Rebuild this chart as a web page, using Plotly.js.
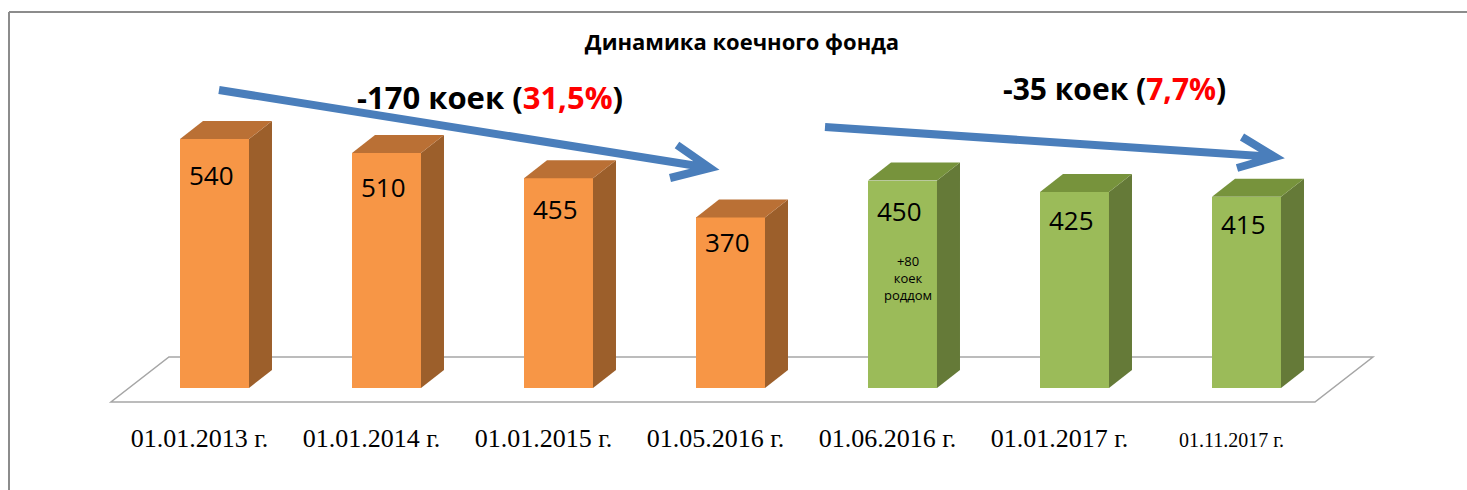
<!DOCTYPE html>
<html>
<head>
<meta charset="utf-8">
<script src="https://cdn.plot.ly/plotly-3.0.1.min.js"></script>
<style>html,body{margin:0;padding:0;background:#fff;}#chart{width:1467px;height:490px;}</style>
</head>
<body>
<div id="chart"></div>
<script>
// ---- data ----
const categories = ['01.01.2013 г.', '01.01.2014 г.', '01.01.2015 г.', '01.05.2016 г.', '01.06.2016 г.', '01.01.2017 г.', '01.11.2017 г.'];
const beds = [540, 510, 455, 370, 450, 425, 415];
const splitIndex = 4; // first four bars: before the maternity unit was added
const chartTitle = 'Динамика коечного фонда';
const change1 = ['-170 коек (', '31,5%', ')'];
const change2 = ['-35 коек (', '7,7%', ')'];
const note = ['+80', 'коек', 'роддом'];
const noteBar = 4;

// ---- geometry / style ----
const W = 1467, H = 490, MB = 70;
const PX_PER_CAT = 172, X0_PIX = 214.5, BASE_PIX = 388, PX_PER_UNIT = 0.461;
const plotH = H - MB;
const xRange = [-X0_PIX / PX_PER_CAT, (W - X0_PIX) / PX_PER_CAT];
const yRange = [(BASE_PIX - plotH) / PX_PER_UNIT, BASE_PIX / PX_PER_UNIT];
const dX = px => (px - X0_PIX) / PX_PER_CAT;
const dY = py => (BASE_PIX - py) / PX_PER_UNIT;
const pX = px => px / W;
const pY = py => (plotH - py) / plotH;

const BAR_W = 0.401;
const DEPTH_X = 23 / PX_PER_CAT, DEPTH_Y = 18 / PX_PER_UNIT;
const pal = {
  a: {front: '#F79646', top: '#BA7035', side: '#9C5F2B'},
  b: {front: '#9BBB59', top: '#77933C', side: '#657A38'}
};
const colOf = i => (i < splitIndex ? pal.a : pal.b);

const traces = [];
// 3D side and top faces, derived from the values
beds.forEach((v, i) => {
  const c = colOf(i);
  const xl = i - BAR_W / 2, xr = i + BAR_W / 2;
  traces.push({
    type: 'scatter', mode: 'lines', fill: 'toself', fillcolor: c.side,
    line: {width: 0, color: c.side}, hoverinfo: 'skip', showlegend: false,
    x: [xr, xr + DEPTH_X, xr + DEPTH_X, xr, xr],
    y: [0, DEPTH_Y, v + DEPTH_Y, v, 0]
  });
  traces.push({
    type: 'scatter', mode: 'lines', fill: 'toself', fillcolor: c.top,
    line: {width: 0, color: c.top}, hoverinfo: 'skip', showlegend: false,
    x: [xl, xl + DEPTH_X, xr + DEPTH_X, xr, xl],
    y: [v, v + DEPTH_Y, v + DEPTH_Y, v, v]
  });
});
// front faces
traces.push({
  type: 'bar', x: beds.map((_, i) => i), y: beds, width: BAR_W,
  marker: {color: beds.map((_, i) => colOf(i).front), line: {width: 0}},
  hoverinfo: 'x+y', showlegend: false
});

const annotations = [];
beds.forEach((v, i) => {
  annotations.push({
    x: i - 0.02, y: v * 0.855, xref: 'x', yref: 'y', text: String(v), showarrow: false,
    font: {family: 'Open Sans', size: 26, color: '#000'}
  });
});
annotations.push({
  x: noteBar + 0.03, y: dY(278), xref: 'x', yref: 'y', text: note.join('<br>'), showarrow: false,
  font: {family: 'Open Sans', size: 13, color: '#000'}
});
annotations.push({
  x: dX(489.5), y: dY(97), xref: 'x', yref: 'y', showarrow: false,
  text: '<b>' + change1[0] + '<span style="color:#FF0000">' + change1[1] + '</span>' + change1[2] + '</b>',
  font: {family: 'Open Sans', size: 31, color: '#000'}
});
annotations.push({
  x: dX(1114), y: dY(88), xref: 'x', yref: 'y', showarrow: false,
  text: '<b>' + change2[0] + '<span style="color:#FF0000">' + change2[1] + '</span>' + change2[2] + '</b>',
  font: {family: 'Open Sans', size: 30, color: '#000'}
});

function arrowPath(s, t, w1, w2) {
  const P = p => dX(p[0]) + ',' + dY(p[1]);
  return 'M' + P(s) + ' L' + P(t) + ' M' + P(w1) + ' L' + P(t) + ' L' + P(w2);
}
const n = categories.length;
const shapes = [
  // floor
  {type: 'path', xref: 'x', yref: 'y', layer: 'below',
   path: 'M' + (-0.602) + ',' + dY(402) + ' L' + (n - 1 + 0.398) + ',' + dY(402) +
         ' L' + (n - 1 + 0.735) + ',' + dY(357) + ' L' + (-0.265) + ',' + dY(357) + ' Z',
   line: {color: '#A6A6A6', width: 1.5}, fillcolor: 'rgba(255,255,255,0)'},
  // arrows
  {type: 'path', xref: 'x', yref: 'y', path: arrowPath([219, 90], [710, 168], [677, 145], [670, 178]),
   line: {color: '#4A7EBB', width: 8}},
  {type: 'path', xref: 'x', yref: 'y', path: arrowPath([825, 127], [1275, 157], [1242, 137], [1237, 168]),
   line: {color: '#4A7EBB', width: 8}},
  // frame
  {type: 'line', xref: 'paper', yref: 'paper', x0: pX(9), x1: pX(1467), y0: pY(12), y1: pY(12),
   line: {color: '#8C8C8C', width: 2}},
  {type: 'line', xref: 'paper', yref: 'paper', x0: pX(9), x1: pX(9), y0: pY(12), y1: pY(490),
   line: {color: '#8C8C8C', width: 2}}
];

const ticktext = categories.map((c, i) => i === n - 1 ? '<span style="font-size:20px">' + c + '</span>' : c);

const layout = {
  width: W, height: H,
  margin: {l: 0, r: 0, t: 0, b: MB, pad: 0},
  paper_bgcolor: '#FFFFFF', plot_bgcolor: '#FFFFFF',
  title: {text: '<b>' + chartTitle + '</b>', x: 742 / W, xanchor: 'center', y: 1 - 42 / H, yanchor: 'middle',
          yref: 'container', font: {family: 'Open Sans', size: 22, color: '#000'}},
  xaxis: {range: xRange, showgrid: false, zeroline: false, showline: false, ticks: '',
          tickmode: 'array', tickvals: categories.map((_, i) => i), ticktext: ticktext,
          ticklabelshift: -15, ticklabelstandoff: 0,
          tickfont: {family: 'Liberation Serif', size: 26, color: '#000'}, fixedrange: true},
  yaxis: {range: yRange, visible: false, showgrid: false, zeroline: false, fixedrange: true},
  showlegend: false,
  annotations: annotations,
  shapes: shapes,
  bargap: 0
};

Plotly.newPlot('chart', traces, layout, {staticPlot: true, displayModeBar: false});
</script>
</body>
</html>
